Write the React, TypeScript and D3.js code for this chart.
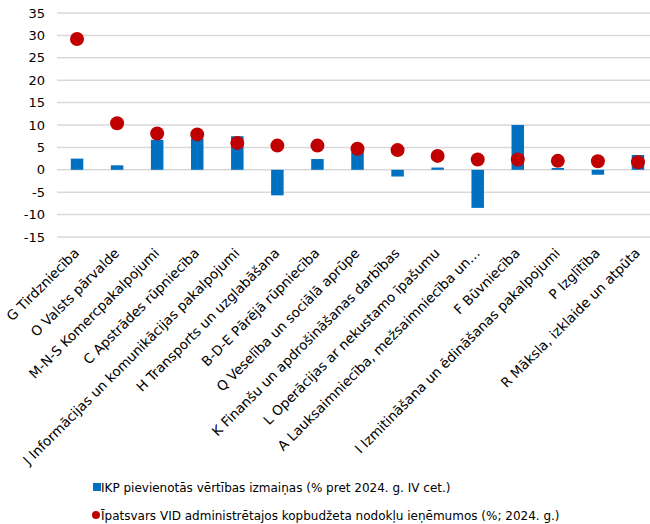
import React from "react";
import * as d3 from "d3";

const categories = [
  "G Tirdzniecība",
  "O Valsts pārvalde",
  "M-N-S Komercpakalpojumi",
  "C Apstrādes rūpniecība",
  "J Informācijas un komunikācijas pakalpojumi",
  "H Transports un uzglabāšana",
  "B-D-E Pārējā rūpniecība",
  "Q Veselība un sociālā aprūpe",
  "K Finanšu un apdrošināšanas darbības",
  "L Operācijas ar nekustamo īpašumu",
  "A Lauksaimniecība, mežsaimniecība un…",
  "F Būvniecība",
  "I Izmitināšana un ēdināšanas pakalpojumi",
  "P Izglītība",
  "R Māksla, izklaide un atpūta",
];

const barValues = [2.5, 1.0, 6.7, 7.0, 7.5, -5.7, 2.4, 4.0, -1.5, 0.5, -8.5, 10.0, 0.4, -1.1, 3.3];
const dotValues = [29.2, 10.4, 8.1, 7.9, 6.0, 5.4, 5.4, 4.7, 4.4, 3.1, 2.3, 2.3, 2.0, 1.9, 1.7];
const yTicks = [-15, -10, -5, 0, 5, 10, 15, 20, 25, 30, 35];
const legendLabels = [
  "IKP pievienotās vērtības izmaiņas (% pret 2024. g. IV cet.)",
  "Īpatsvars VID administrētajos kopbudžeta nodokļu ieņēmumos (%; 2024. g.)",
];

const W = 650;
const H = 524;
const FONT = "DejaVu Sans, Verdana, sans-serif";

export default function App() {
  const x = d3.scaleBand<string>().domain(categories).range([57, 658]).paddingInner(0).paddingOuter(0);
  const y = d3.scaleLinear().domain([-15, 35]).range([237, 13]);
  const barW = 12.5;
  const bw = x.bandwidth();

  return (
    <svg width={W} height={H} style={{ position: "absolute", left: 0, top: 0, background: "#fff" }} fontFamily={FONT}>
      {yTicks.map((t) => (
        <g key={t}>
          <line x1={57} x2={W} y1={y(t)} y2={y(t)} stroke="#d9d9d9" strokeWidth={1.5} />
          <text x={45} y={y(t)} dy="0.36em" textAnchor="end" fontSize={13} fill="#000">
            {t}
          </text>
        </g>
      ))}
      {categories.map((c, i) => {
        const cx = (x(c) as number) + bw / 2;
        const v = barValues[i];
        return (
          <rect
            key={"b" + i}
            x={cx - barW / 2}
            y={Math.min(y(v), y(0))}
            width={barW}
            height={Math.abs(y(v) - y(0))}
            fill="#0070C0"
          />
        );
      })}
      {categories.map((c, i) => {
        const cx = (x(c) as number) + bw / 2;
        return <circle key={"d" + i} cx={cx} cy={y(dotValues[i])} r={7} fill="#C00000" />;
      })}
      {categories.map((c, i) => {
        const cx = (x(c) as number) + bw / 2;
        return (
          <text
            key={"l" + i}
            transform={`translate(${cx + 3},${254}) rotate(-45)`}
            textAnchor="end"
            fontSize={13.5}
            fill="#000"
          >
            {c}
          </text>
        );
      })}
      <rect x={93} y={483} width={8} height={8} fill="#0070C0" />
      <text x={101} y={492} fontSize={12} fill="#000">
        {legendLabels[0]}
      </text>
      <circle cx={96} cy={515} r={4} fill="#C00000" />
      <text x={101} y={519.5} fontSize={12} fill="#000">
        {legendLabels[1]}
      </text>
    </svg>
  );
}
